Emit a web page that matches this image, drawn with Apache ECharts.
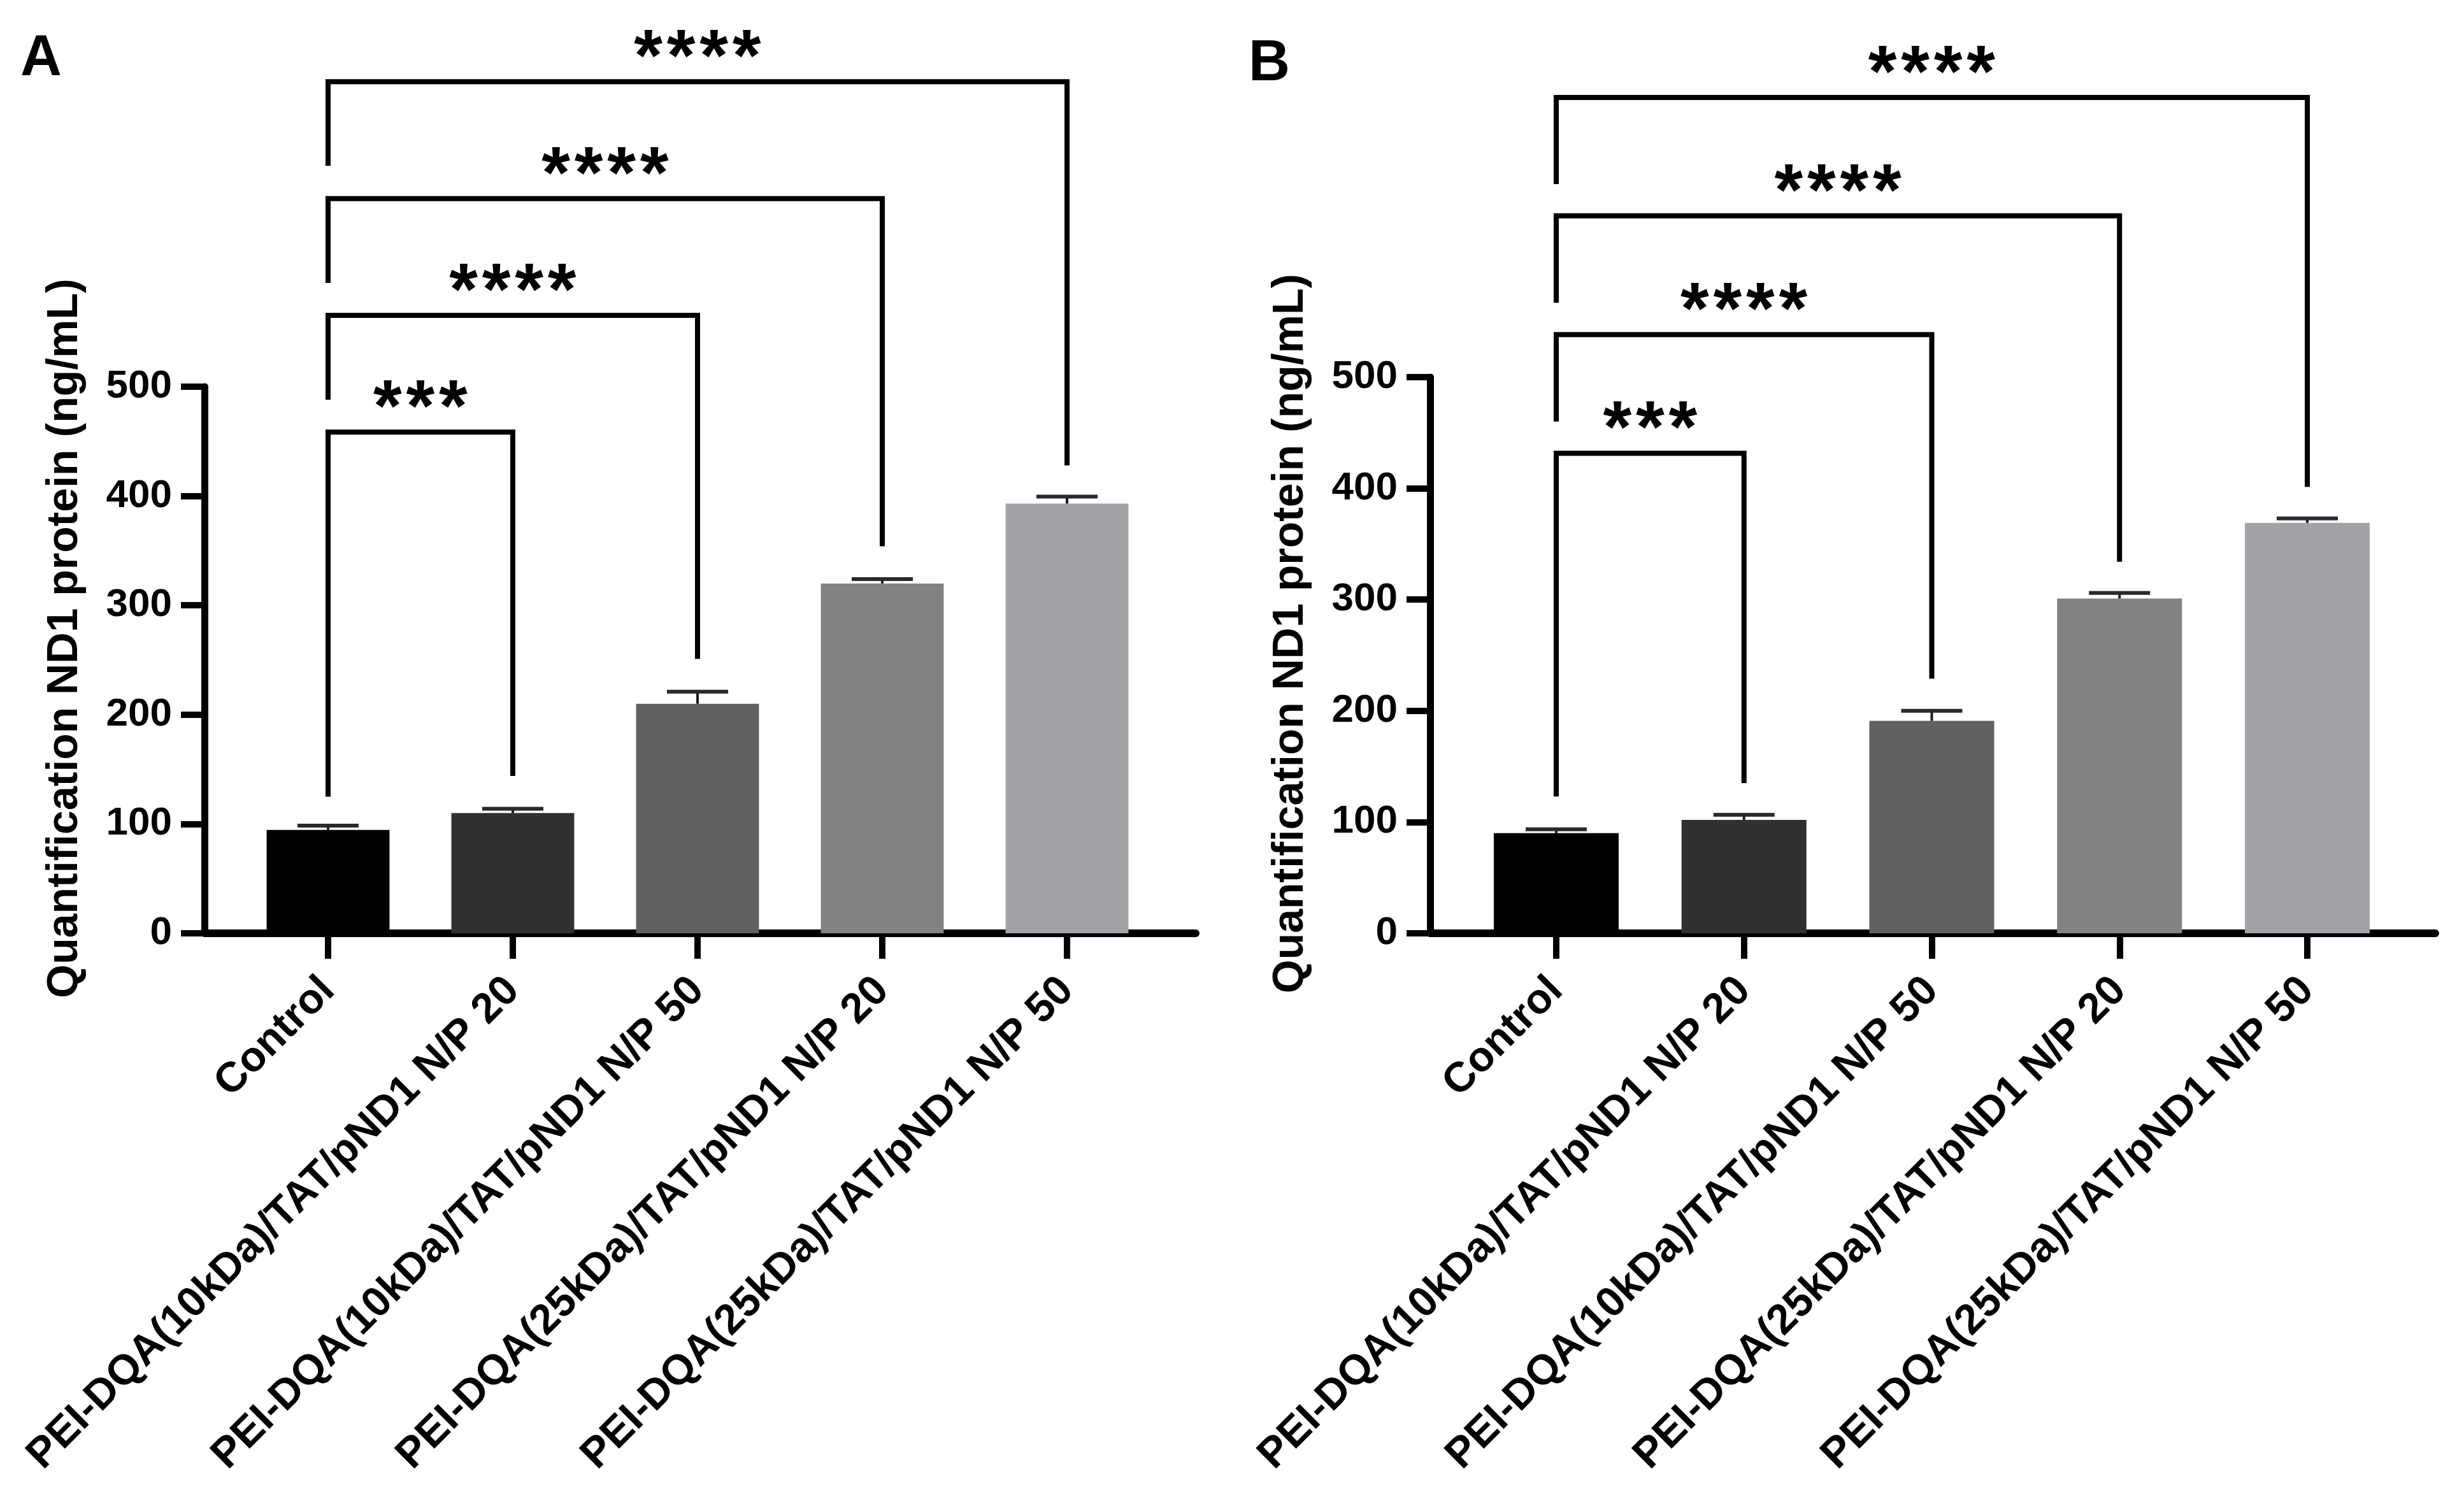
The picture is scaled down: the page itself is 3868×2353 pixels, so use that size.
<!DOCTYPE html>
<html>
<head>
<meta charset="utf-8">
<script src="https://cdn.jsdelivr.net/npm/echarts@6/dist/echarts.min.js"></script>
<style>
html,body{margin:0;padding:0;background:#fff;}
#chart{width:3868px;height:2353px;}
</style>
</head>
<body>
<div id="chart"></div>
<script>
// ---------- data ----------
const categories = [
  'Control',
  'PEI-DQA(10kDa)/TAT/pND1 N/P 20',
  'PEI-DQA(10kDa)/TAT/pND1 N/P 50',
  'PEI-DQA(25kDa)/TAT/pND1 N/P 20',
  'PEI-DQA(25kDa)/TAT/pND1 N/P 50'
];
const valuesA = [94.5, 110, 210, 320, 393];
const errorsA = [4, 4, 11, 4, 6.5];
const valuesB = [90, 102, 191, 301, 369];
const errorsB = [3.5, 4.5, 9, 5, 4];
const yMin = 0, yMax = 500, yInterval = 100;
const yAxisName = 'Quantification ND1 protein (ng/mL)';
const panelLabels = ['A', 'B'];

// significance brackets (Control vs each group)
const bracketFrom = 0;
const bracketTargets = [1, 2, 3, 4];
const bracketLabelsA = ['***', '****', '****', '****'];
const bracketTopA = [458.5, 565.3, 672, 779];
const bracketLeftEndA = [125, 488, 595, 702];
const bracketRightEndA = [144, 251, 354, 428];
const bracketLabelsB = ['***', '****', '****', '****'];
const bracketTopB = [431.5, 538.3, 645, 751.4];
const bracketLeftEndB = [123, 460, 566.8, 673.6];
const bracketRightEndB = [135, 229, 334, 401.4];

// ---------- style ----------
const barColors = ['#000000', '#303030', '#616161', '#828282', '#a3a2a7'];
const FONT = "'Liberation Sans', Arial, sans-serif";

const panels = [
  { axisGrid: { left: 321, top: 607, width: 1556, height: 858 },
    barGrid:  { left: 370, top: 607, width: 1450, height: 858 },
    values: valuesA, errors: errorsA,
    top: bracketTopA, leftEnd: bracketLeftEndA, rightEnd: bracketRightEndA, labels: bracketLabelsA },
  { axisGrid: { left: 2245, top: 592, width: 1578, height: 873 },
    barGrid:  { left: 2295.6, top: 592, width: 1473.8, height: 873 },
    values: valuesB, errors: errorsB,
    top: bracketTopB, leftEnd: bracketLeftEndB, rightEnd: bracketRightEndB, labels: bracketLabelsB }
];

const grid = [], xAxis = [], yAxis = [], series = [];
panels.forEach((p, k) => {
  const gA = grid.length;
  grid.push(Object.assign({ outerBoundsMode: 'none', containLabel: false }, p.axisGrid));
  grid.push(Object.assign({ outerBoundsMode: 'none', containLabel: false }, p.barGrid));
  const gB = gA + 1;
  // axis-line grid
  xAxis.push({
    gridIndex: gA, type: 'value', min: 0, max: 1,
    axisLine: { show: true, onZero: false, lineStyle: { color: '#000', width: 12 } },
    axisTick: { show: false }, axisLabel: { show: false }, splitLine: { show: false }
  });
  yAxis.push({
    gridIndex: gA, type: 'value', min: yMin, max: yMax, interval: yInterval,
    name: yAxisName, nameLocation: 'middle', nameGap: 185, nameRotate: 90,
    nameTextStyle: { fontFamily: FONT, fontWeight: 'bold', fontSize: 68, color: '#000', padding: [0, 0, 0, 68] },
    axisLine: { show: true, lineStyle: { color: '#000', width: 11 } },
    axisTick: { show: true, inside: false, length: 37, lineStyle: { color: '#000', width: 10 } },
    axisLabel: { show: true, margin: 51, fontFamily: FONT, fontWeight: 'bold', fontSize: 62, color: '#000' },
    splitLine: { show: false }
  });
  // bar grid
  xAxis.push({
    gridIndex: gB, type: 'category', data: categories, boundaryGap: true,
    axisLine: { show: false },
    axisTick: { show: true, alignWithLabel: true, inside: false, length: 40, lineStyle: { color: '#000', width: 10 } },
    axisLabel: { show: true, interval: 0, rotate: 45, margin: 80, fontFamily: FONT, fontWeight: 'bold', fontSize: 66, color: '#000' },
    splitLine: { show: false }
  });
  yAxis.push({ gridIndex: gB, type: 'value', min: yMin, max: yMax, interval: yInterval, show: false });

  const xi = xAxis.length - 1, yi = yAxis.length - 1;
  series.push({
    type: 'bar', xAxisIndex: xi, yAxisIndex: yi, barWidth: '66.5%', z: 2,
    data: p.values.map((v, i) => ({ value: v, itemStyle: { color: barColors[i] } })),
    silent: true
  });
  series.push({
    type: 'custom', xAxisIndex: xi, yAxisIndex: yi, z: 3, silent: true,
    encode: { x: 0, y: 1 },
    data: p.values.map((v, i) => [i, v, p.errors[i]]),
    renderItem: function (params, api) {
      const base = api.coord([api.value(0), api.value(1)]);
      const top = api.coord([api.value(0), api.value(1) + api.value(2)]);
      return { type: 'group', children: [
        { type: 'line', shape: { x1: base[0], y1: base[1], x2: top[0], y2: top[1] }, style: { stroke: '#1a1a1a', lineWidth: 4 } },
        { type: 'line', shape: { x1: top[0] - 48, y1: top[1], x2: top[0] + 48, y2: top[1] }, style: { stroke: '#2a2a2a', lineWidth: 6 } }
      ] };
    }
  });
  const labels = p.labels;
  series.push({
    type: 'custom', xAxisIndex: xi, yAxisIndex: yi, z: 4, silent: true, clip: false,
    encode: { x: [0, 1], y: [2, 3, 4] },
    data: bracketTargets.map((t, i) => [bracketFrom, t, p.top[i], p.leftEnd[i], p.rightEnd[i]]),
    renderItem: function (params, api) {
      const i = params.dataIndex;
      const p1 = api.coord([api.value(0), api.value(3)]);
      const p2 = api.coord([api.value(0), api.value(2)]);
      const p3 = api.coord([api.value(1), api.value(2)]);
      const p4 = api.coord([api.value(1), api.value(4)]);
      const children = [{
        type: 'polyline', shape: { points: [p1, p2, p3, p4] },
        style: { stroke: '#000', lineWidth: 8, fill: null, lineJoin: 'miter' }
      }];
      const lab = labels[i];
      const n = lab.length;
      const cx = (p2[0] + p3[0]) / 2;
      for (let s = 0; s < n; s++) {
        children.push({
          type: 'text',
          x: cx + (s - (n - 1) / 2) * 51.5,
          y: p2[1] - 34,
          style: { text: lab[s], fontFamily: FONT, fontWeight: 'bold', fontSize: 115, fill: '#000', align: 'center', verticalAlign: 'middle' }
        });
      }
      return { type: 'group', children: children };
    }
  });
});

const chart = echarts.init(document.getElementById('chart'), null, { renderer: 'canvas' });
chart.setOption({
  backgroundColor: '#ffffff',
  animation: false,
  title: [
    { text: panelLabels[0], left: 32, top: 48, padding: 0, textStyle: { fontFamily: FONT, fontWeight: 'bold', fontSize: 90, color: '#000' } },
    { text: panelLabels[1], left: 1960, top: 56, padding: 0, textStyle: { fontFamily: FONT, fontWeight: 'bold', fontSize: 90, color: '#000' } }
  ],
  grid: grid,
  xAxis: xAxis,
  yAxis: yAxis,
  series: series
});
</script>
</body>
</html>
